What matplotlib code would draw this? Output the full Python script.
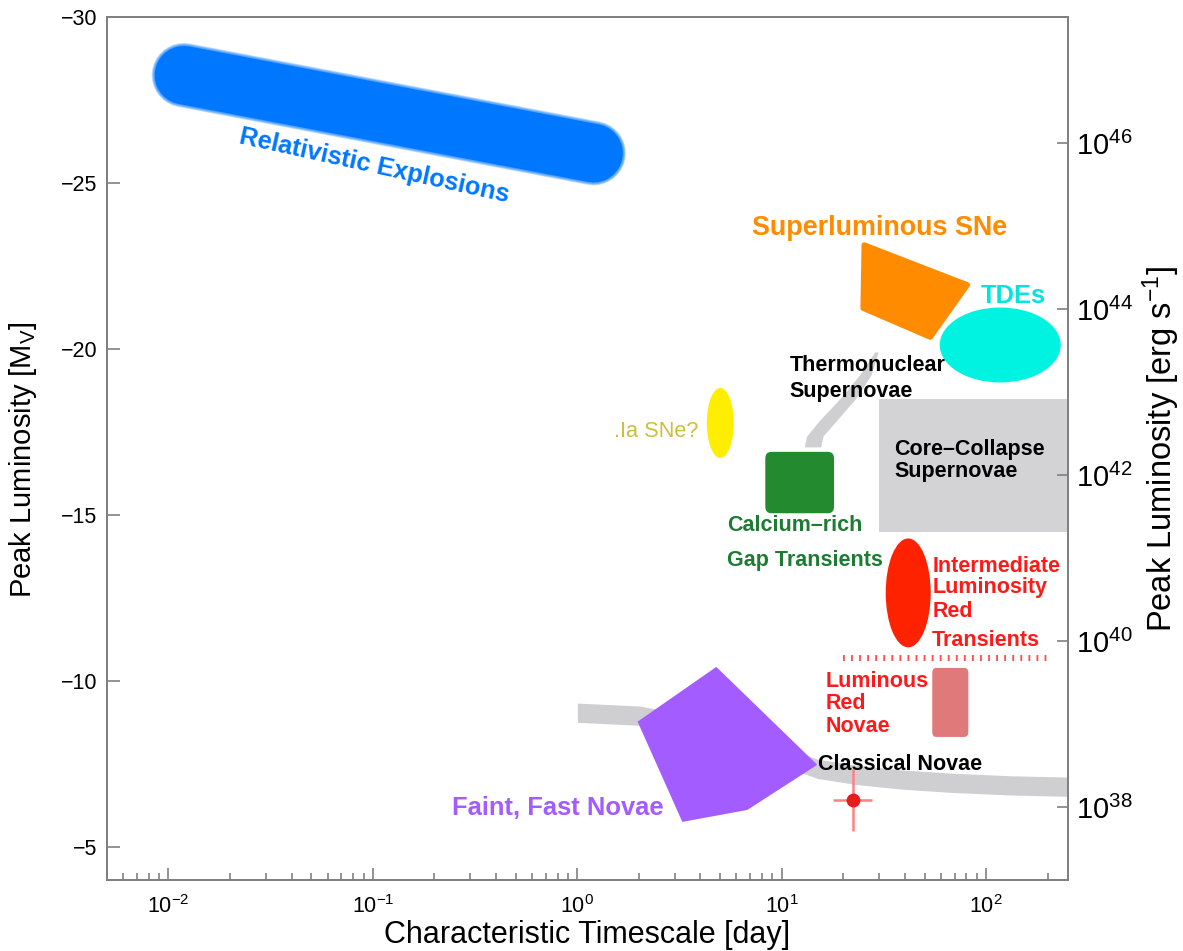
import numpy as np
import matplotlib
matplotlib.use("Agg")
import matplotlib.pyplot as plt
from matplotlib.patches import Ellipse, FancyBboxPatch
from matplotlib.ticker import FixedLocator, NullLocator, LogFormatterSciNotation, LogLocator

plt.rcParams['font.family'] = ['Liberation Sans', 'DejaVu Sans']
plt.rcParams['mathtext.fontset'] = 'custom'
plt.rcParams['mathtext.rm'] = 'Liberation Sans'
plt.rcParams['mathtext.it'] = 'Liberation Sans:italic'
plt.rcParams['mathtext.bf'] = 'Liberation Sans:bold'

# ---- classes of transients: timescale [day] vs peak magnitude M_V ----
rel_t = [0.0119, 1.20]               # relativistic explosions, centreline ends
rel_m = [-28.25, -25.90]

slsn_t = [25.3, 80.7, 53.2, 25.0]   # superluminous SNe
slsn_m = [-23.13, -21.93, -20.36, -21.23]

ffn_t = [4.78, 14.9, 6.78, 3.26, 1.97]   # faint, fast novae
ffn_m = [-10.42, -7.47, -6.11, -5.75, -8.77]

# classical novae track
cn_t = [1.0, 2.03, 4.0, 7.85, 14.9, 22.9, 38.0, 66.7, 131.0, 251.0]
cn_m = [-9.04, -8.95, -8.58, -7.98, -7.35, -7.17, -7.03, -6.93, -6.85, -6.81]
cn_half = 0.29

tn_t = [14.1, 14.5, 16.9, 21.1, 25.6, 29.0]   # thermonuclear SNe track
tn_m = [-17.05, -17.38, -17.86, -18.52, -19.22, -19.91]
tn_half = [0.040, 0.040, 0.042, 0.038, 0.028, 0.008]   # half width in dex

ccsn_t = [30.0, 260.0]               # core-collapse box
ccsn_m = [-18.5, -14.5]

ca_t = [8.3, 18.0]                   # calcium-rich gap transients box
ca_m = [-16.9, -15.05]

lrn_t = [54.4, 81.7]                 # luminous red novae box
lrn_m = [-10.39, -8.31]

# ellipses: centre timescale, centre mag, width [dex], height [mag]
tde = (117.0, -20.12, 0.592, 2.26)
ia = (5.0, -17.77, 0.132, 2.11)
ilrt = (41.5, -12.65, 0.22, 3.28)

ilrt_floor_t = [20.0, 200.0]
ilrt_floor_m = -10.69

pt_t, pt_m = 22.4, -6.42
pt_terr = [[22.4 - 17.7], [27.7 - 22.4]]
pt_merr = 0.93

xlim = (5.0e-3, 251.0)
ylim = (-4.0, -30.0)
mag_zero = 88.8          # M = mag_zero - 2.5 log L

fig = plt.figure(figsize=(11.83, 9.51), dpi=100)
ax = fig.add_axes([0.0904, 0.0747, 0.9028 - 0.0904, 0.982 - 0.0747])
ax.set_xscale('log')
ax.set_xlim(*xlim)
ax.set_ylim(*ylim)
lin = ax.transLimits + ax.transAxes     # takes (log10 t, M)

grey = '#cfcfd2'

# relativistic explosions, soft edged
for i in range(6):
    ax.plot(rel_t, rel_m, color='#0077ff', lw=46.5 - 0.8 * i, alpha=0.2,
            solid_capstyle='round', zorder=2)
ax.plot(rel_t, rel_m, color='#0077ff', lw=42, solid_capstyle='round', zorder=2)

# classical novae track
cm = np.array(cn_m)
ax.fill_between(cn_t, cm - cn_half, cm + cn_half, color=grey, lw=0, zorder=1)

# thermonuclear track
tt = np.log10(tn_t)
hh = np.array(tn_half)
ax.fill_betweenx(tn_m, 10 ** (tt - hh), 10 ** (tt + hh), color=grey, lw=0, zorder=1)

# core collapse box
ax.fill_between(ccsn_t, ccsn_m[0], ccsn_m[1], color='#d3d3d5', lw=0, zorder=1)

ax.fill(slsn_t, slsn_m, color='#ff8c00', lw=4, joinstyle='round', zorder=2)
ax.fill(ffn_t, ffn_m, color='#a35cff', lw=0, zorder=3)


def rbox(t, m, color, r_dex=0.03, r_mag=0.2):
    x0, x1 = np.log10(t)
    p = FancyBboxPatch((x0, min(m)), x1 - x0, abs(m[1] - m[0]),
                       boxstyle='round,pad=0,rounding_size=%g' % r_dex,
                       mutation_aspect=r_mag / r_dex,
                       transform=lin, color=color, lw=0, zorder=2)
    ax.add_patch(p)


rbox(ca_t, ca_m, '#248a30')
rbox(lrn_t, lrn_m, '#e07a7a', r_dex=0.02, r_mag=0.15)


def ell(e, color):
    t, m, w, h = e
    ax.add_patch(Ellipse((np.log10(t), m), w, h, transform=lin,
                         color=color, lw=0, zorder=2))


ell(tde, '#00f3e0')
ell(ia, '#ffee00')
ell(ilrt, '#ff2200')

# lower bound of the ILRT class
ax.plot(ilrt_floor_t, [ilrt_floor_m] * 2, color='#ff4a4a', lw=4.3,
        dashes=(0.3, 1.05), solid_capstyle='butt', dash_capstyle='butt', zorder=2)

# single event with error bars
ax.errorbar(pt_t, pt_m, xerr=pt_terr, yerr=pt_merr, fmt='none',
            ecolor='#ff8080', elinewidth=1.8, capsize=0, zorder=4)
ax.plot(pt_t, pt_m, 'o', color='#e81c1c', ms=10, mew=0, zorder=5)

# labels
bold = dict(fontweight='bold', fontsize=15.5, zorder=6)
ax.text(0.1017, -25.51, 'Relativistic Explosions', color='#0077ff',
        rotation=-12.4, rotation_mode='anchor', ha='center', va='center',
        fontweight='bold', fontsize=18.3, zorder=6)
ax.text(7.18, -23.64, 'Superluminous SNe', color='#ff8c00', ha='left', va='center',
        fontweight='bold', fontsize=19.4, zorder=6)
ax.text(93.5, -21.60, 'TDEs', color='#00e5e0', ha='left', va='center',
        fontweight='bold', fontsize=18.4, zorder=6)
ax.text(10.9, -19.49, 'Thermonuclear', color='black', ha='left', va='center', **bold)
ax.text(10.9, -18.73, 'Supernovae', color='black', ha='left', va='center', **bold)
ax.text(35.5, -16.96, 'Core\u2013Collapse', color='black', ha='left', va='center', **bold)
ax.text(35.5, -16.30, 'Supernovae', color='black', ha='left', va='center', **bold)
ax.text(3.9, -17.50, '.Ia SNe?', color='#cbbf3c', ha='right', va='center',
        fontsize=15.7, zorder=6)
ax.text(5.41, -14.67, 'Calcium\u2013rich', color='#1e7b34', ha='left', va='center', **bold)
ax.text(5.41, -13.64, 'Gap Transients', color='#1e7b34', ha='left', va='center', **bold)
for s, m in zip(['Intermediate', 'Luminosity', 'Red', 'Transients'],
                [-13.46, -12.80, -12.08, -11.23]):
    ax.text(54.4, m, s, color='#ff1a1a', ha='left', va='center', **bold)
for s, m in zip(['Luminous', 'Red', 'Novae'], [-9.97, -9.31, -8.61]):
    ax.text(16.3, m, s, color='#ff1a1a', ha='left', va='center', **bold)
ax.text(15.1, -7.47, 'Classical Novae', color='black', ha='left', va='center', **bold)
ax.text(2.63, -6.17, 'Faint, Fast Novae', color='#a35cff', ha='right', va='center',
        fontweight='bold', fontsize=18.4, zorder=6)

# axes styling
spine_c = '#808080'
for s in ax.spines.values():
    s.set_color(spine_c)
    s.set_linewidth(1.3)
ax.set_yticks([-30, -25, -20, -15, -10, -5])
ax.xaxis.set_major_locator(LogLocator(base=10, numticks=12))
ax.xaxis.set_minor_locator(LogLocator(base=10, subs=np.arange(2, 10), numticks=12))
ax.tick_params(which='both', direction='in', color=spine_c, width=1.2)
ax.tick_params(which='major', length=9, labelsize=15.5, pad=7)
ax.tick_params(axis='x', which='major', pad=11)
ax.tick_params(which='minor', length=5)
ax.tick_params(axis='y', which='both', right=False)
ax.tick_params(axis='x', which='both', top=False)
ax.set_xlabel('Characteristic Timescale [day]', fontsize=22, labelpad=1)
ax.set_ylabel('Peak Luminosity [M$_\\mathregular{V}$]', fontsize=21)
ax.yaxis.set_label_coords(-0.071, 0.487)

# luminosity scale on the right
ax2 = ax.twinx()
ax2.set_yscale('log')
ax2.set_ylim(10 ** ((mag_zero - ylim[0]) / 2.5), 10 ** ((mag_zero - ylim[1]) / 2.5))
ax2.yaxis.set_major_locator(FixedLocator([1e38, 1e40, 1e42, 1e44, 1e46]))
ax2.yaxis.set_minor_locator(NullLocator())
ax2.yaxis.set_major_formatter(LogFormatterSciNotation())
ax2.tick_params(direction='in', length=8, color=spine_c, width=1.2,
                labelsize=21, pad=6)
for s in ax2.spines.values():
    s.set_color(spine_c)
    s.set_linewidth(1.3)
ax2.set_ylabel('Peak Luminosity [erg s$^{\\mathregular{-1}}$]', fontsize=23.5, labelpad=5)

fig.savefig('out.png', dpi=100, facecolor='white')
